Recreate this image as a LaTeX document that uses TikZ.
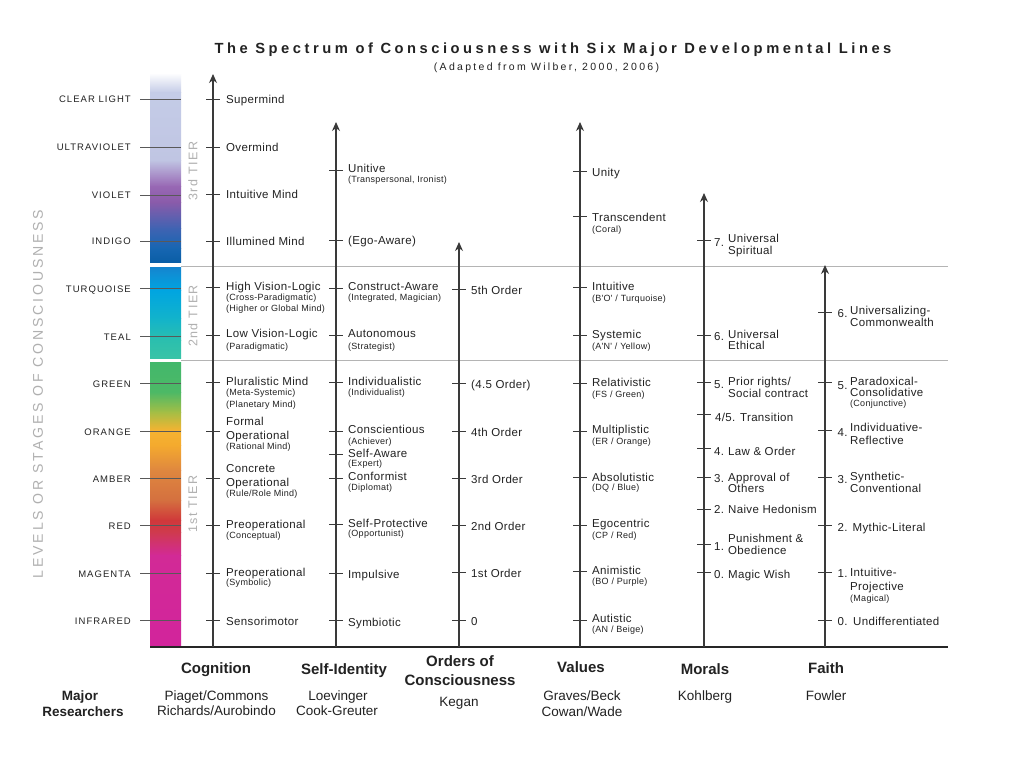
\documentclass[tikz,border=0pt]{standalone}
\usepackage{fontspec}
\setmainfont{Liberation Sans}
\newfontfamily\mainf[LetterSpace=3]{Liberation Sans}
\newfontfamily\levf[LetterSpace=11]{Liberation Sans}
\newfontfamily\titf[LetterSpace=24]{Liberation Sans}
\newfontfamily\subtf[LetterSpace=22]{Liberation Sans}
\newfontfamily\tierf[LetterSpace=12]{Liberation Sans}
\newfontfamily\bigvf[LetterSpace=20]{Liberation Sans}
\usetikzlibrary{arrows.meta}
\definecolor{txt}{HTML}{222222}
\definecolor{axc}{HTML}{3A3A3A}
\definecolor{tierc}{HTML}{B0B0B0}
\definecolor{sepc}{HTML}{B4B4B4}
\newcommand\band[4]{\definecolor{bandtop}{HTML}{#3}\definecolor{bandbot}{HTML}{#4}%
  \shade[top color=bandtop,bottom color=bandbot] (150,#1) rectangle (181,#2);}
\newcommand\tk[2]{\draw[tickl] ({#1-7},#2) -- ({#1+7},#2);}
\tikzset{
  lbl/.style={anchor=base west, inner sep=0pt, font=\fontsize{11.5}{13}\mainf, text=txt},
  sbl/.style={anchor=base west, inner sep=0pt, font=\fontsize{9}{10}\mainf, text=txt},
  lev/.style={anchor=base east, inner sep=0pt, font=\fontsize{9.5}{10}\levf, text=txt},
  head/.style={anchor=base, inner sep=0pt, font=\fontsize{15}{17}\selectfont\bfseries, text=txt},
  res/.style={anchor=base, inner sep=0pt, font=\fontsize{13.5}{15}\selectfont, text=txt},
  tier/.style={rotate=90, inner sep=0pt, font=\fontsize{12.5}{14}\tierf, text=tierc},
  tickl/.style={draw=axc, line width=0.9pt},
  axisl/.style={draw=axc, line width=1.2pt, -{Stealth[length=9pt,width=8pt]}},
  levtick/.style={draw=black!65, line width=0.8pt},
  sepl/.style={draw=sepc, line width=0.8pt}
}
\begin{document}
\begin{tikzpicture}[x=1pt,y=-1pt]
\useasboundingbox (0,0) rectangle (1010,764);
\fill[white] (0,0) rectangle (1010,764);
% ---- colour bar ----
\band{73}{92.5}{FFFFFF}{C4CCE7}
\band{92}{160.5}{C4CCE7}{C0C5E3}
\band{160}{186.5}{C0C5E3}{9868B4}
\band{186}{202.5}{9868B4}{8A5BAA}
\band{202}{228.5}{8A5BAA}{4063B2}
\band{228}{248.5}{4063B2}{1766B2}
\band{248}{262}{1766B2}{0A5EA6}
\band{267}{290.5}{1585CF}{00A5E1}
\band{290}{318.5}{00A5E1}{12B3CB}
\band{318}{340.5}{12B3CB}{2BBFAE}
\band{340}{358}{2BBFAE}{38C3A7}
\band{362}{392.5}{42B86C}{4DB966}
\band{392}{412.5}{4DB966}{A4BE45}
\band{412}{430.5}{A4BE45}{F5B331}
\band{430}{445.5}{F5B331}{F4AA2E}
\band{445}{470.5}{F4AA2E}{DF873F}
\band{470}{500.5}{DF873F}{D4703F}
\band{500}{520.5}{D4703F}{D0383A}
\band{520}{532.5}{D0383A}{CF3A4E}
\band{532}{555.5}{CF3A4E}{D22A96}
\band{555}{647}{D22A96}{D2249C}
\foreach \yy in {99,147,195,241,288,336,383,431,478,525,573,620}
  \draw[levtick] (140,\yy) -- (181,\yy);
% ---- tier separators & base line ----
\draw[sepl] (181,266) -- (948,266);
\draw[sepl] (181,360.5) -- (948,360.5);
\draw[line width=2pt, black!85] (150,647) -- (948,647);
% ---- title ----
\node[anchor=base, inner sep=0pt, font=\fontsize{14.7}{16}\titf\bfseries, text=txt] (title) at (553,53) {The Spectrum of Consciousness with Six Major Developmental Lines};
\node[anchor=base, inner sep=0pt, font=\fontsize{10.5}{12}\subtf, text=txt] (subtitle) at (546.5,70) {(Adapted from Wilber, 2000, 2006)};
% ---- level labels ----
\node[lev] (lv1) at (131,102.4) {CLEAR LIGHT};
\node[lev] (lv2) at (131,150.4) {ULTRAVIOLET};
\node[lev] (lv3) at (131,198.4) {VIOLET};
\node[lev] (lv4) at (131,244.4) {INDIGO};
\node[lev] (lv5) at (131,292.4) {TURQUOISE};
\node[lev] (lv6) at (131,340.4) {TEAL};
\node[lev] (lv7) at (131,387.4) {GREEN};
\node[lev] (lv8) at (131,435.4) {ORANGE};
\node[lev] (lv9) at (131,482.4) {AMBER};
\node[lev] (lv10) at (131,529.4) {RED};
\node[lev] (lv11) at (131,577.4) {MAGENTA};
\node[lev] (lv12) at (131,624.4) {INFRARED};
\node[rotate=90, inner sep=0pt, font=\fontsize{14.1}{15}\bigvf, text=tierc] (levels) at (38,394) {LEVELS OR STAGES OF CONSCIOUSNESS};
\node[tier] (t3) at (193,171) {3rd TIER};
\node[tier] (t2) at (193,316) {2nd TIER};
\node[tier] (t1) at (193,504) {1st TIER};
% ---- axes ----
\coordinate (cogB) at (213,647); \coordinate (cogT) at (213,74);
\coordinate (sidB) at (336,647); \coordinate (sidT) at (336,122);
\coordinate (ordB) at (459,647); \coordinate (ordT) at (459,242);
\coordinate (valB) at (580,647); \coordinate (valT) at (580,122);
\coordinate (morB) at (704,647); \coordinate (morT) at (704,193);
\coordinate (faiB) at (825,647); \coordinate (faiT) at (825,265);
\draw[axisl] (cogB) -- (cogT);
\draw[axisl] (sidB) -- (sidT);
\draw[axisl] (ordB) -- (ordT);
\draw[axisl] (valB) -- (valT);
\draw[axisl] (morB) -- (morT);
\draw[axisl] (faiB) -- (faiT);
% ---- Cognition ----
\foreach \yy in {99,147,194,241,287,335,382,431,478,525,573,620} {\tk{213}{\yy}}
\node[lbl] (c1) at (226,103) {Supermind};
\node[lbl] (c2) at (226,151) {Overmind};
\node[lbl] (c3) at (226,198.5) {Intuitive Mind};
\node[lbl] (c4) at (226,245) {Illumined Mind};
\node[lbl] (c5) at (226,290) {High Vision-Logic};
\node[sbl] (c5a) at (226,300) {(Cross-Paradigmatic)};
\node[sbl] (c5b) at (226,311) {(Higher or Global Mind)};
\node[lbl] (c6) at (226,337.5) {Low Vision-Logic};
\node[sbl] (c6a) at (226,349) {(Paradigmatic)};
\node[lbl] (c7) at (226,385) {Pluralistic Mind};
\node[sbl] (c7a) at (226,395.5) {(Meta-Systemic)};
\node[sbl] (c7b) at (226,407) {(Planetary Mind)};
\node[lbl] (c8) at (226,425) {Formal};
\node[lbl] (c8b) at (226,439) {Operational};
\node[sbl] (c8a) at (226,449.5) {(Rational Mind)};
\node[lbl] (c9) at (226,472) {Concrete};
\node[lbl] (c9b) at (226,486) {Operational};
\node[sbl] (c9a) at (226,496.5) {(Rule/Role Mind)};
\node[lbl] (c10) at (226,528.5) {Preoperational};
\node[sbl] (c10a) at (226,538) {(Conceptual)};
\node[lbl] (c11) at (226,576) {Preoperational};
\node[sbl] (c11a) at (226,585.5) {(Symbolic)};
\node[lbl] (c12) at (226,625) {Sensorimotor};
% ---- Self-Identity ----
\foreach \yy in {170,240.5,288,335.5,382.5,431.5,454.5,478,524.5,573,620} {\tk{336}{\yy}}
\node[lbl] (s1) at (348,172) {Unitive};
\node[sbl] (s1a) at (348,182) {(Transpersonal, Ironist)};
\node[lbl] (s2) at (348,244.5) {(Ego-Aware)};
\node[lbl] (s3) at (348,290) {Construct-Aware};
\node[sbl] (s3a) at (348,300) {(Integrated, Magician)};
\node[lbl] (s4) at (348,337.5) {Autonomous};
\node[sbl] (s4a) at (348,349) {(Strategist)};
\node[lbl] (s5) at (348,385.5) {Individualistic};
\node[sbl] (s5a) at (348,395) {(Individualist)};
\node[lbl] (s6) at (348,433) {Conscientious};
\node[sbl] (s6a) at (348,444) {(Achiever)};
\node[lbl] (s7) at (348,457) {Self-Aware};
\node[sbl] (s7a) at (348,466) {(Expert)};
\node[lbl] (s8) at (348,480) {Conformist};
\node[sbl] (s8a) at (348,490) {(Diplomat)};
\node[lbl] (s9) at (348,527) {Self-Protective};
\node[sbl] (s9a) at (348,536.5) {(Opportunist)};
\node[lbl] (s10) at (348,578) {Impulsive};
\node[lbl] (s11) at (348,626) {Symbiotic};
% ---- Orders of Consciousness ----
\foreach \yy in {289,383.5,431.5,478,525,572.5,620} {\tk{459}{\yy}}
\node[lbl] (o1) at (471,294) {5th Order};
\node[lbl] (o2) at (471,388.5) {(4.5 Order)};
\node[lbl] (o3) at (471,436.5) {4th Order};
\node[lbl] (o4) at (471,483) {3rd Order};
\node[lbl] (o5) at (471,530.5) {2nd Order};
\node[lbl] (o6) at (471,577.5) {1st Order};
\node[lbl] (o7) at (471,625.5) {0};
% ---- Values ----
\foreach \yy in {171,216,287.5,335.5,383,431.5,477.5,525,571.5,620} {\tk{580}{\yy}}
\node[lbl] (v1) at (592,176) {Unity};
\node[lbl] (v2) at (592,221.5) {Transcendent};
\node[sbl] (v2a) at (592,232) {(Coral)};
\node[lbl] (v3) at (592,290.5) {Intuitive};
\node[sbl] (v3a) at (592,301) {(B'O' / Turquoise)};
\node[lbl] (v4) at (592,338) {Systemic};
\node[sbl] (v4a) at (592,349) {(A'N' / Yellow)};
\node[lbl] (v5) at (592,386) {Relativistic};
\node[sbl] (v5a) at (592,397) {(FS / Green)};
\node[lbl] (v6) at (592,433) {Multiplistic};
\node[sbl] (v6a) at (592,444) {(ER / Orange)};
\node[lbl] (v7) at (592,481) {Absolutistic};
\node[sbl] (v7a) at (592,490.5) {(DQ / Blue)};
\node[lbl] (v8) at (592,527.5) {Egocentric};
\node[sbl] (v8a) at (592,538) {(CP / Red)};
\node[lbl] (v9) at (592,574) {Animistic};
\node[sbl] (v9a) at (592,584.5) {(BO / Purple)};
\node[lbl] (v10) at (592,622.5) {Autistic};
\node[sbl] (v10a) at (592,632) {(AN / Beige)};
% ---- Morals ----
\foreach \yy in {240.5,335.5,382.5,414.5,448.5,477.5,509.5,544.5,572.5} {\tk{704}{\yy}}
\node[lbl] (m7n) at (714,246.5) {7.};
\node[lbl] (m7) at (728,242.5) {Universal};
\node[lbl] (m7b) at (728,254) {Spiritual};
\node[lbl] (m6n) at (714,340) {6.};
\node[lbl] (m6) at (728,338) {Universal};
\node[lbl] (m6b) at (728,349.5) {Ethical};
\node[lbl] (m5n) at (714,388) {5.};
\node[lbl] (m5) at (728,385.5) {Prior rights/};
\node[lbl] (m5b) at (728,397.5) {Social contract};
\node[lbl] (m45) at (715,421) {4/5. Transition};
\node[lbl] (m4n) at (714,455) {4.};
\node[lbl] (m4) at (728,455) {Law \& Order};
\node[lbl] (m3n) at (714,482.5) {3.};
\node[lbl] (m3) at (728,481) {Approval of};
\node[lbl] (m3b) at (728,492.5) {Others};
\node[lbl] (m2n) at (714,513.5) {2.};
\node[lbl] (m2) at (728,513.5) {Naive Hedonism};
\node[lbl] (m1n) at (714,550) {1.};
\node[lbl] (m1) at (728,542.5) {Punishment \&};
\node[lbl] (m1b) at (728,554) {Obedience};
\node[lbl] (m0n) at (714,578.5) {0.};
\node[lbl] (m0) at (728,578.5) {Magic Wish};
% ---- Faith ----
\foreach \yy in {312,382.5,430.5,477.5,525,572.5,620} {\tk{825}{\yy}}
\node[lbl] (f6n) at (837.5,317) {6.};
\node[lbl] (f6) at (850,314) {Universalizing-};
\node[lbl] (f6b) at (850,326.5) {Commonwealth};
\node[lbl] (f5n) at (837.5,389) {5.};
\node[lbl] (f5) at (850,385) {Paradoxical-};
\node[lbl] (f5b) at (850,396.5) {Consolidative};
\node[sbl] (f5a) at (850,406.5) {(Conjunctive)};
\node[lbl] (f4n) at (837.5,436) {4.};
\node[lbl] (f4) at (850,431) {Individuative-};
\node[lbl] (f4b) at (850,444) {Reflective};
\node[lbl] (f3n) at (837.5,483.5) {3.};
\node[lbl] (f3) at (850,480) {Synthetic-};
\node[lbl] (f3b) at (850,492) {Conventional};
\node[lbl] (f2n) at (837.5,531) {2.};
\node[lbl] (f2) at (852.5,531) {Mythic-Literal};
\node[lbl] (f1n) at (837.5,577.5) {1.};
\node[lbl] (f1) at (850,576) {Intuitive-};
\node[lbl] (f1b) at (850,590) {Projective};
\node[sbl] (f1a) at (850,601) {(Magical)};
\node[lbl] (f0n) at (837.5,625) {0.};
\node[lbl] (f0) at (853,625) {Undifferentiated};
% ---- column headings ----
\node[head] (hcog) at (216,673) {Cognition};
\node[head] (hsid) at (344,674) {Self-Identity};
\node[head] (hord) at (460,666) {Orders of};
\node[head] (hord2) at (460,685) {Consciousness};
\node[head] (hval) at (581,672) {Values};
\node[head] (hmor) at (705,674) {Morals};
\node[head] (hfai) at (826,673) {Faith};
\node[anchor=base, inner sep=0pt, font=\fontsize{13.5}{15}\selectfont\bfseries, text=txt] (major) at (80,700.8) {Major};
\node[anchor=base, inner sep=0pt, font=\fontsize{13.5}{15}\selectfont\bfseries, text=txt] (resr) at (83,716.8) {Researchers};
\node[res] (r1) at (216.5,700) {Piaget/Commons};
\node[res] (r1b) at (216.5,715.5) {Richards/Aurobindo};
\node[res] (r2) at (338,700) {Loevinger};
\node[res] (r2b) at (337,715.5) {Cook-Greuter};
\node[res] (r3) at (459,706.5) {Kegan};
\node[res] (r4) at (582,700) {Graves/Beck};
\node[res] (r4b) at (582,716) {Cowan/Wade};
\node[res] (r5) at (705,700) {Kohlberg};
\node[res] (r6) at (826,700) {Fowler};
\end{tikzpicture}
\end{document}
